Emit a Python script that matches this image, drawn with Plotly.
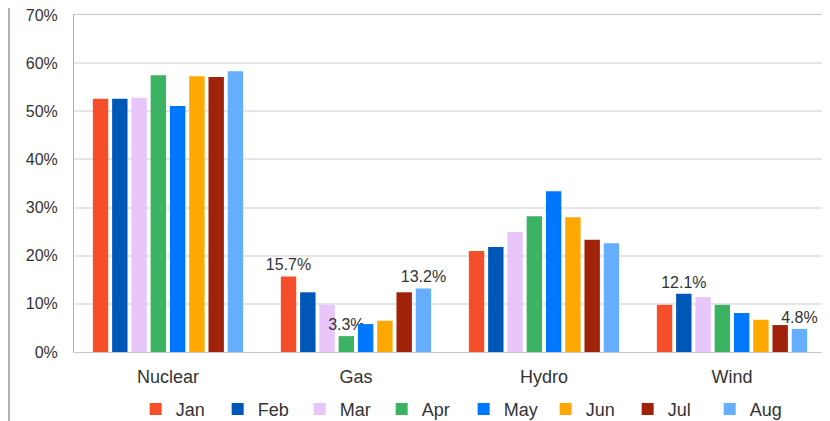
import plotly.graph_objects as go

categories = ["Nuclear", "Gas", "Hydro", "Wind"]
months = ["Jan", "Feb", "Mar", "Apr", "May", "Jun", "Jul", "Aug"]
jan = [52.6, 15.7, 21.0, 9.8]
feb = [52.6, 12.4, 21.8, 12.1]
mar = [52.8, 9.8, 24.9, 11.4]
apr = [57.5, 3.3, 28.2, 9.8]
may = [51.1, 5.8, 33.4, 8.1]
jun = [57.3, 6.5, 28.0, 6.7]
jul = [57.1, 12.4, 23.3, 5.6]
aug = [58.3, 13.2, 22.6, 4.8]
series = [jan, feb, mar, apr, may, jun, jul, aug]
colors = ["#F44E2B", "#0057B8", "#E8C6FA", "#3CB363", "#0077FF", "#FFA800", "#A0220A", "#66AFFF"]
# which values are labelled (month index -> category indices)
labelled = {0: [1], 3: [1], 7: [1, 3], 1: [3]}

fig = go.Figure()
for i, (m, vals) in enumerate(zip(months, series)):
    texts = [f"{v:.1f}%" if j in labelled.get(i, []) else "" for j, v in enumerate(vals)]
    fig.add_trace(go.Bar(
        name=m, x=categories, y=vals, marker_color=colors[i],
        marker_line_width=0, text=texts, textposition="outside",
        constraintext="none",
        textfont=dict(size=16, color="#333333"), cliponaxis=False,
    ))

fig.update_layout(
    width=830, height=421,
    margin=dict(l=66, r=12, t=7, b=77, autoexpand=False),
    plot_bgcolor="white", paper_bgcolor="white",
    font=dict(family="Liberation Sans, Arial, sans-serif", color="#333333"),
    barmode="group", bargap=0.18, bargroupgap=0.2,
    showlegend=True,
    legend=dict(orientation="h", x=0.082, xanchor="left", y=-0.115, yanchor="top",
                entrywidth=37, font=dict(size=18, color="#333333"),
                itemwidth=30, traceorder="normal"),
    xaxis=dict(showline=True, linecolor="#c8c8c8", linewidth=1, mirror=True,
               automargin=False,
               tickfont=dict(size=18, color="#333333"), ticks="outside",
               ticklen=8, tickcolor="rgba(0,0,0,0)"),
    yaxis=dict(range=[0, 70], dtick=10, ticksuffix="%", showline=True,
               automargin=False, ticklabeloverflow="allow",
               linecolor="#b0b0b0", linewidth=1, mirror=True,
               gridcolor="#e6e6ea", gridwidth=2,
               tickfont=dict(size=16, color="#333333"), ticks="outside",
               ticklen=12, tickcolor="rgba(0,0,0,0)"),
    shapes=[dict(type="line", xref="paper", yref="paper",
                 x0=-0.0864, x1=-0.0864, y0=-0.3, y1=1.1,
                 line=dict(color="#b0b0b0", width=2))],
)

fig.write_html("out.html")
